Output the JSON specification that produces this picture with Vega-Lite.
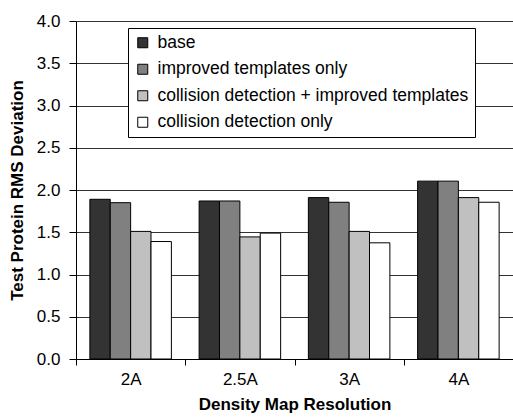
{
  "$schema": "https://vega.github.io/schema/vega-lite/v6.json",
  "width": 437,
  "height": 338,
  "autosize": {"type": "none"},
  "padding": {"left": 76, "top": 21, "right": 0, "bottom": 58},
  "background": "white",
  "config": {
    "view": {"stroke": null},
    "font": "Liberation Sans",
    "axis": {"labelFont": "Liberation Sans", "titleFont": "Liberation Sans", "labelColor": "black", "titleColor": "black"},
    "legend": {"labelFont": "Liberation Sans"}
  },
  "data": {
    "values": [
      {"res": "2A", "method": "base", "value": 1.89},
      {"res": "2A", "method": "improved templates only", "value": 1.85},
      {"res": "2A", "method": "collision detection + improved templates", "value": 1.51},
      {"res": "2A", "method": "collision detection only", "value": 1.39},
      {"res": "2.5A", "method": "base", "value": 1.87},
      {"res": "2.5A", "method": "improved templates only", "value": 1.87},
      {"res": "2.5A", "method": "collision detection + improved templates", "value": 1.445},
      {"res": "2.5A", "method": "collision detection only", "value": 1.49},
      {"res": "3A", "method": "base", "value": 1.91},
      {"res": "3A", "method": "improved templates only", "value": 1.855},
      {"res": "3A", "method": "collision detection + improved templates", "value": 1.51},
      {"res": "3A", "method": "collision detection only", "value": 1.375},
      {"res": "4A", "method": "base", "value": 2.105},
      {"res": "4A", "method": "improved templates only", "value": 2.105},
      {"res": "4A", "method": "collision detection + improved templates", "value": 1.91},
      {"res": "4A", "method": "collision detection only", "value": 1.855}
    ]
  },
  "mark": {"type": "bar", "stroke": "black", "strokeWidth": 1},
  "encoding": {
    "x": {
      "field": "res",
      "type": "nominal",
      "sort": ["2A", "2.5A", "3A", "4A"],
      "scale": {"paddingInner": 0, "paddingOuter": 0},
      "axis": {
        "title": "Density Map Resolution",
        "titleFontSize": 17,
        "titleFontWeight": "bold",
        "titlePadding": 9,
        "labelFontSize": 17,
        "labelAngle": 0,
        "labelPadding": 6,
        "tickBand": "extent",
        "domainColor": "black",
        "tickColor": "black",
        "tickSize": 6,
        "grid": false
      }
    },
    "xOffset": {
      "field": "method",
      "type": "nominal",
      "sort": ["base", "improved templates only", "collision detection + improved templates", "collision detection only"],
      "scale": {"paddingInner": 0, "paddingOuter": 0.68}
    },
    "y": {
      "field": "value",
      "type": "quantitative",
      "scale": {"domain": [0, 4], "nice": false},
      "axis": {
        "title": "Test Protein RMS Deviation",
        "titleFontSize": 17,
        "titleFontWeight": "bold",
        "titlePadding": 10,
        "labelFontSize": 17,
        "labelPadding": 9,
        "format": ".1f",
        "values": [0, 0.5, 1, 1.5, 2, 2.5, 3, 3.5, 4],
        "domainColor": "black",
        "tickColor": "black",
        "tickSize": 7,
        "grid": true,
        "gridColor": "#333333",
        "gridWidth": 1
      }
    },
    "color": {
      "field": "method",
      "type": "nominal",
      "sort": ["base", "improved templates only", "collision detection + improved templates", "collision detection only"],
      "scale": {
        "domain": ["base", "improved templates only", "collision detection + improved templates", "collision detection only"],
        "range": ["#333333", "#808080", "#c0c0c0", "#ffffff"]
      },
      "legend": {
        "title": null,
        "orient": "none",
        "legendX": 52,
        "legendY": 7,
        "fillColor": "white",
        "strokeColor": "black",
        "padding": 6,
        "rowPadding": 7.5,
        "symbolType": "square",
        "symbolSize": 100,
        "symbolStrokeColor": "black",
        "symbolStrokeWidth": 1,
        "symbolOpacity": 1,
        "labelFontSize": 17.5,
        "labelLimit": 400,
        "labelOffset": 6,
        "labelColor": "black"
      }
    }
  }
}
